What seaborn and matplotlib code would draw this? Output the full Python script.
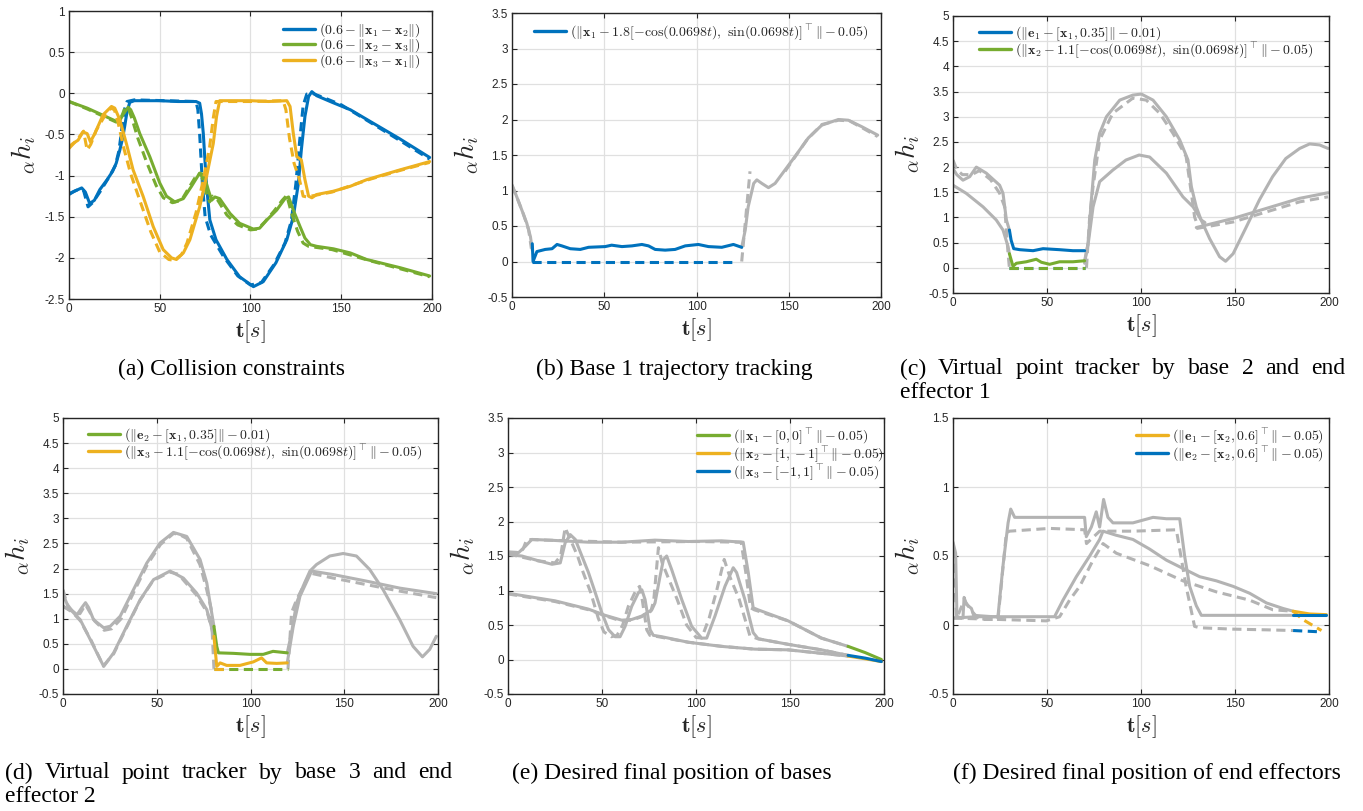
import numpy as np
import matplotlib
matplotlib.use("Agg")
import matplotlib.pyplot as plt
from matplotlib.lines import Line2D
from matplotlib.ticker import FuncFormatter
import seaborn as sns

# ─── Data (t [s], value) ──────────────────────────────────────────────────────

# (a) collision constraints: solid = actual, dashed = reference
a_x12 = [(0, -1.23), (3, -1.19), (5, -1.17), (7, -1.15), (9, -1.2), (11.4, -1.34), (14, -1.3),
         (17, -1.17), (21, -1.05), (24, -0.95), (26, -0.85), (28, -0.69), (29.5, -0.55),
         (30.7, -0.4), (32, -0.22), (33.5, -0.11), (36, -0.09), (50, -0.09), (60, -0.1),
         (70, -0.1), (72, -0.12), (73, -0.25), (74, -0.49), (75, -0.85), (75.8, -1.13),
         (77.6, -1.54), (81, -1.78), (87, -2.02), (94, -2.23), (101.6, -2.35), (107, -2.29),
         (114, -2.06), (120, -1.78), (123.6, -1.5), (126.4, -1.09), (128, -0.69), (130, -0.28),
         (132, -0.04), (133.8, 0.02), (136.5, -0.03), (145, -0.11), (155, -0.2), (165, -0.33),
         (182, -0.55), (198.7, -0.78)]
a_x12_ref = [(0, -1.22), (5, -1.17), (8, -1.18), (10.5, -1.38), (13, -1.33), (17, -1.2),
             (22, -1.02), (25.5, -0.88), (27.5, -0.7), (29, -0.45), (30.5, -0.2), (32, -0.1),
             (36, -0.08), (70, -0.1), (71, -0.2), (72, -0.5), (73.5, -1.1), (75, -1.5),
             (78, -1.72), (85, -1.98), (93, -2.22), (100, -2.33), (106, -2.3), (113, -2.08),
             (119, -1.82), (122.5, -1.55), (125, -1.1), (127, -0.6), (129, -0.15), (131, -0.01),
             (134, 0.0), (140, -0.05), (150, -0.14), (165, -0.34), (182, -0.57), (198.7, -0.8)]
a_x23 = [(0, -0.1), (10, -0.18), (20, -0.28), (26, -0.34), (28, -0.33), (30, -0.25),
         (32.6, -0.17), (34, -0.2), (36, -0.3), (39, -0.49), (44.5, -0.77), (50, -1.09),
         (53.7, -1.25), (58.3, -1.32), (63, -1.28), (67.5, -1.13), (72, -0.97), (74.3, -0.99),
         (76.7, -1.17), (78.6, -1.3), (80.4, -1.26), (83, -1.28), (88.7, -1.46), (94, -1.58),
         (101.6, -1.65), (105, -1.64), (109, -1.54), (114.4, -1.42), (119, -1.28), (121, -1.26),
         (123.6, -1.42), (127.3, -1.62), (130, -1.76), (133, -1.84), (136.5, -1.86),
         (145.7, -1.89), (155, -1.94), (164, -2.02), (182.5, -2.12), (198.7, -2.22)]
a_x23_ref = [(0, -0.1), (10, -0.19), (20, -0.29), (26, -0.35), (29, -0.28), (31, -0.17),
             (33, -0.2), (35, -0.33), (38, -0.55), (43, -0.85), (48, -1.12), (52, -1.27),
             (57, -1.33), (62, -1.3), (66, -1.15), (71, -0.97), (73, -1.0), (75.5, -1.2),
             (77.5, -1.32), (79, -1.25), (82, -1.3), (87, -1.48), (93, -1.6), (100, -1.66),
             (104, -1.65), (108, -1.56), (113, -1.43), (117.5, -1.3), (120, -1.24),
             (122.5, -1.45), (126, -1.68), (129, -1.82), (132, -1.86), (145, -1.9),
             (165, -2.03), (182, -2.13), (198.7, -2.23)]
a_x31 = [(0, -0.65), (2.2, -0.61), (5, -0.57), (7.7, -0.47), (10, -0.49), (11.8, -0.59),
         (14.2, -0.49), (18.8, -0.26), (23.4, -0.16), (25.2, -0.18), (28, -0.32),
         (31.6, -0.61), (35.3, -0.93), (40.8, -1.25), (46.4, -1.62), (51.9, -1.9), (56.5, -2.0),
         (59.2, -2.02), (63, -1.94), (66.6, -1.78), (72, -1.38), (75.8, -1.01), (79.5, -0.61),
         (81.3, -0.28), (83, -0.09), (100, -0.09), (110, -0.1), (120, -0.09), (121.8, -0.16),
         (123.6, -0.49), (125.5, -0.77), (128, -0.81), (130, -1.05), (132, -1.25),
         (133.8, -1.27), (136.5, -1.23), (145.7, -1.19), (155, -1.13), (164, -1.05),
         (182.5, -0.93), (198.7, -0.83)]
a_x31_ref = [(0, -0.67), (3, -0.6), (6, -0.52), (8, -0.46), (10, -0.69), (12, -0.62),
             (15, -0.45), (19, -0.3), (23, -0.18), (25, -0.2), (27, -0.35), (30, -0.65),
             (34, -0.98), (39, -1.3), (45, -1.68), (50, -1.93), (55, -2.02), (58, -2.03),
             (62, -1.96), (65, -1.82), (70, -1.45), (74, -1.05), (77.5, -0.65), (79.5, -0.3),
             (81, -0.1), (100, -0.1), (118, -0.09), (119.5, -0.2), (121.5, -0.55), (124, -0.85),
             (127, -1.05), (129, -1.25), (131, -1.26), (145, -1.2), (165, -1.05), (182, -0.94),
             (198.7, -0.84)]

# (b) base 1 trajectory tracking
b_track = [(11, 0.25), (11.4, 0.0), (13.5, 0.14), (18, 0.17), (21.7, 0.18), (24.4, 0.24),
           (27, 0.22), (31.6, 0.18), (37, 0.17), (41.5, 0.2), (50.5, 0.21), (54, 0.23),
           (59.6, 0.21), (65, 0.22), (70.4, 0.24), (74, 0.22), (77.6, 0.17), (83, 0.16),
           (88.4, 0.17), (93.9, 0.22), (101, 0.24), (106.5, 0.21), (113.7, 0.2), (120, 0.24),
           (124.5, 0.2)]
b_track_ref = [(11, 0.0), (121, 0.0)]
b_idle = [[(0, 1.08), (2, 0.95), (5.4, 0.72), (8, 0.54), (10, 0.35), (11, 0.16)],
          [(124.5, 0.2), (126.4, 0.44), (128, 0.77), (131, 1.1), (132.7, 1.15), (135.4, 1.1),
           (139, 1.04), (142.6, 1.1), (148, 1.29), (153.4, 1.48), (160.6, 1.74), (167.9, 1.92),
           (176.9, 2.0), (182.3, 1.99), (189.5, 1.9), (198.2, 1.78)]]
b_idle_ref = [[(0, 1.07), (3, 0.88), (6, 0.68), (9, 0.45), (10.5, 0.18)],
              [(124.5, 0.0), (129, 1.27)],
              [(148, 1.27), (160, 1.72), (168, 1.93), (177, 1.99), (183, 1.98), (190, 1.88),
               (198.2, 1.76)]]

# (c) virtual point tracker, base 2 / end effector 1
c_e1 = [(30, 0.75), (30.9, 0.55), (32.3, 0.38), (35.5, 0.36), (42.6, 0.34), (47.9, 0.38),
        (56.7, 0.36), (63.8, 0.34), (70, 0.34)]
c_e1_ref = [(30, 0.0), (70, 0.0)]
c_x2 = [(30, 0.28), (31.9, 0.03), (33.7, 0.09), (39, 0.12), (44.3, 0.17), (47, 0.11),
        (51.4, 0.07), (56.7, 0.12), (63.8, 0.12), (70, 0.14)]
c_x2_ref = [(30, 0.0), (70, 0.0)]
c_idle = [[(0, 1.97), (2, 1.85), (5.3, 1.74), (8.9, 1.81), (12.4, 2.0), (17.7, 1.88),
           (24.8, 1.64), (26.6, 1.48), (28.4, 0.95), (30, 0.75)],
          [(0, 1.64), (7, 1.48), (16, 1.21), (23, 0.95), (26.6, 0.75), (29.3, 0.42), (30, 0.28)],
          [(70, 0.09), (71.8, 0.48), (73.6, 1.35), (75.4, 2.14), (78, 2.67), (81.6, 3.0),
           (88.7, 3.33), (95.7, 3.43), (100.2, 3.45), (106.4, 3.33), (113.5, 3.0),
           (120.6, 2.54), (125, 2.14), (126.8, 1.61), (129.4, 1.21), (132, 0.95), (134, 0.9)],
          [(129.4, 0.8), (149, 0.98), (166.7, 1.18), (184.4, 1.38), (199.5, 1.49)],
          [(70, 0.14), (72, 0.5), (74.5, 1.21), (78, 1.71), (85, 1.94), (92, 2.14), (99, 2.24),
           (104.6, 2.2), (113.5, 1.88), (122.3, 1.41), (127.7, 1.21), (132, 0.95),
           (136.5, 0.58), (141.8, 0.22), (145, 0.13), (149, 0.28), (156, 0.81), (163, 1.35),
           (170, 1.81), (177, 2.17), (184.4, 2.37), (189.7, 2.46), (195, 2.44), (199.5, 2.37)]]
c_idle_ref = [[(0, 2.14), (2, 1.95), (5, 1.85), (10, 1.85), (14, 1.93), (20, 1.75),
               (24.8, 1.48), (27.5, 1.21), (29.3, 0.28), (30, 0.0)],
              [(71, 0.0), (72.7, 1.01), (74.5, 1.61), (78, 2.54), (85, 3.07), (95.7, 3.37),
               (102.8, 3.33), (109.9, 3.07), (117, 2.67), (124, 2.21), (126.8, 1.48),
               (128.5, 1.01), (130, 0.85)],
              [(129.4, 0.78), (149, 0.91), (166.7, 1.11), (184.4, 1.31), (199.5, 1.41)]]

# (d) virtual point tracker, base 3 / end effector 2
d_e2 = [(80.5, 0.85), (82, 0.45), (82.9, 0.32), (90.9, 0.31), (99.7, 0.29), (106.8, 0.29),
        (112, 0.35), (119.6, 0.32)]
d_e2_ref = [(80.5, 0.0), (120, 0.0)]
d_x3 = [(80.5, 0.65), (82, 0.05), (83.8, 0.12), (87.3, 0.07), (94.4, 0.07), (101.5, 0.14),
        (105.9, 0.22), (108.6, 0.12), (114, 0.11), (119.6, 0.12)]
d_x3_ref = [(80.5, 0.0), (88, 0.0)]
d_idle = [[(0, 1.55), (1.2, 1.38), (3, 1.22), (7.5, 1.08), (10, 1.22), (12, 1.32),
           (13.7, 1.22), (16.3, 0.98), (21.7, 0.82), (25.2, 0.85), (30.5, 1.05), (37.6, 1.58),
           (44.7, 2.11), (51.8, 2.51), (58.9, 2.72), (66, 2.64), (73.1, 2.18), (76.7, 1.71),
           (78.4, 1.32), (80.5, 0.85)],
          [(0, 1.25), (4.8, 1.15), (9.2, 0.98), (14.6, 0.58), (21.7, 0.05), (27, 0.32),
           (34, 0.85), (41.2, 1.38), (48.3, 1.78), (57.1, 1.95), (64.2, 1.81), (71.3, 1.51),
           (76.7, 1.18), (80.5, 0.65)],
          [(119.6, 0.32), (121.9, 0.72), (124.6, 1.32), (128.1, 1.65), (131.7, 1.95),
           (135.2, 2.08), (142.3, 2.25), (149.4, 2.3), (156.5, 2.25), (163.6, 1.98),
           (170.7, 1.58), (179.6, 0.98), (186.7, 0.45), (191.7, 0.24), (195.6, 0.39),
           (199.1, 0.65)],
          [(119.6, 0.12), (122.8, 0.85), (126.4, 1.45), (132.6, 1.95), (144.1, 1.88),
           (161.8, 1.75), (179.6, 1.61), (199.1, 1.5)]]
d_idle_ref = [[(0, 1.58), (2, 1.3), (5, 1.15), (9, 1.1), (12, 1.28), (14, 1.15), (17, 0.95),
               (22, 0.77), (26, 0.8), (31, 1.0), (38, 1.55), (45, 2.08), (52, 2.48), (59, 2.7),
               (62, 2.68), (66, 2.6), (73, 2.08), (76.5, 1.6), (79, 1.2), (80.5, 0.0)],
              [(0, 1.25), (5, 1.13), (9, 0.97), (15, 0.57), (21.5, 0.06), (27, 0.3), (34, 0.83),
               (41, 1.36), (48, 1.76), (57, 1.93), (62, 1.88), (64, 1.78), (71, 1.48),
               (77, 1.12), (80, 0.7)],
              [(120, 0.0), (121.9, 1.12), (124.6, 1.38), (131.7, 1.91), (144.1, 1.81),
               (161.8, 1.68), (179.6, 1.55), (199.1, 1.42)]]

# (e) desired final position of bases
e_x1 = [(180.9, 0.19), (190, 0.1), (198.6, 0.0)]
e_x2 = [(180.9, 0.05), (190, 0.01), (198.6, -0.03)]
e_x3 = [(180.9, 0.06), (190, 0.02), (198.6, -0.03)]
e_idle = [[(0, 1.55), (5.7, 1.55), (9.2, 1.64), (12.7, 1.74), (21.6, 1.73), (42.8, 1.7),
           (60.5, 1.7), (78.2, 1.73), (95.9, 1.71), (113.6, 1.72), (125.1, 1.7), (127.8, 1.26),
           (130.4, 0.75), (133, 0.72), (149, 0.56), (166.7, 0.31), (180.9, 0.19)],
          [(0, 1.52), (7.4, 1.5), (16.3, 1.43), (23.4, 1.38), (27.8, 1.4), (30.4, 1.69),
           (33.1, 1.81), (35.8, 1.74), (39.3, 1.5), (42.8, 1.26), (46.4, 0.97), (49.9, 0.68),
           (53.5, 0.43), (57, 0.33), (59.6, 0.33), (62.3, 0.48), (65.8, 0.77), (69.4, 0.97),
           (71.2, 1.01), (72.9, 0.87), (75.6, 0.43), (77.3, 0.35), (81.8, 0.33), (95.9, 0.25),
           (113.6, 0.19), (131.3, 0.15), (149, 0.14), (166.7, 0.09), (180.9, 0.05)],
          [(0, 0.96), (25.1, 0.85), (42.8, 0.73), (51.7, 0.64), (60.5, 0.57), (65.8, 0.58),
           (71.2, 0.63), (76.5, 0.72), (78.2, 0.82), (80.9, 1.21), (82.7, 1.45), (84.4, 1.5),
           (87.1, 1.3), (92.4, 0.87), (97.7, 0.48), (103, 0.31), (105.7, 0.31), (110.1, 0.63),
           (115.4, 1.06), (119.8, 1.33), (121.6, 1.26), (126, 0.87), (130.4, 0.39),
           (133.1, 0.3), (149, 0.22), (166.7, 0.14), (180.9, 0.06)]]
e_idle_ref = [[(0, 1.56), (6, 1.55), (8, 1.6), (10, 1.74), (20, 1.73), (60, 1.7), (100, 1.71),
               (124, 1.7), (126.5, 1.26), (129, 0.75), (131, 0.72), (149, 0.56), (166.7, 0.31),
               (180.9, 0.19)],
              [(0, 1.53), (16, 1.43), (25, 1.4), (28, 1.5), (30.4, 1.91), (33, 1.75), (37, 1.5),
               (40, 1.26), (44, 0.97), (48, 0.6), (51, 0.4), (55, 0.33), (58, 0.35), (61, 0.5),
               (64, 0.77), (68, 1.0), (70, 1.06), (71.5, 0.85), (73.8, 0.43), (75.5, 0.35),
               (80, 0.33), (96, 0.25), (114, 0.19), (131, 0.15), (149, 0.14), (166.7, 0.09),
               (180.9, 0.05)],
              [(0, 0.95), (25, 0.84), (43, 0.72), (52, 0.63), (60, 0.56), (66, 0.57), (71, 0.62),
               (76, 0.7), (77.5, 0.85), (80, 1.62), (82, 1.4), (85, 1.2), (90, 0.87), (95, 0.5),
               (100, 0.32), (103, 0.31), (107, 0.6), (111, 1.0), (115, 1.45), (118, 1.2),
               (123, 0.87), (127, 0.5), (128.7, 0.34), (133, 0.3), (149, 0.22), (166.7, 0.14),
               (180.9, 0.06)]]

# (f) desired final position of end effectors
f_e1 = [(180.9, 0.1), (189.7, 0.08), (198.6, 0.075)]
f_e1_ref = [(180.9, 0.1), (186, 0.04), (191, 0.0), (196, -0.04)]
f_e2 = [(180.9, 0.07), (198.6, 0.07)]
f_e2_ref = [(180.9, -0.04), (196, -0.05)]
f_idle = [[(0, 0.6), (1.4, 0.52), (2.1, 0.06), (5.3, 0.05), (5.9, 0.2), (7.1, 0.15),
           (9.8, 0.12), (11, 0.07), (21.3, 0.06), (23.9, 0.06), (26.6, 0.43), (29.3, 0.74),
           (30.7, 0.84), (32.8, 0.78), (42.6, 0.78), (60.3, 0.78), (70, 0.78), (70.9, 0.64),
           (73.6, 0.71), (76.2, 0.82), (78, 0.71), (80.1, 0.91), (82.4, 0.78), (85.1, 0.74),
           (95.7, 0.74), (106.4, 0.78), (113.5, 0.77), (120.6, 0.77), (123.2, 0.5),
           (125.9, 0.28), (129.4, 0.14), (132.1, 0.07), (149, 0.07), (166.7, 0.07),
           (180.9, 0.07)],
          [(0, 0.05), (12.4, 0.06), (42.6, 0.06), (54, 0.06), (58.5, 0.18), (65.6, 0.35),
           (72.7, 0.5), (78, 0.62), (79.8, 0.68), (86.9, 0.65), (95.7, 0.62), (104.6, 0.55),
           (113.5, 0.47), (122.3, 0.41), (131.2, 0.35), (140.1, 0.32), (149, 0.28),
           (157.8, 0.23), (166.7, 0.16), (175.5, 0.12), (180.9, 0.1)]]
f_idle_ref = [[(0, 0.55), (2, 0.05), (6, 0.18), (10, 0.1), (14, 0.04), (23.9, 0.04),
               (28.4, 0.67), (30.1, 0.68), (51.4, 0.7), (70, 0.69), (71, 0.59), (78, 0.68),
               (95.7, 0.68), (118.8, 0.69), (124, 0.28), (128.5, -0.01), (131.2, -0.02),
               (149, -0.03), (166.7, -0.035), (180.9, -0.04)],
              [(0, 0.05), (49.6, 0.03), (56.7, 0.06), (62, 0.18), (67.4, 0.28), (74.5, 0.47),
               (79.8, 0.59), (86.9, 0.52), (104.6, 0.43), (122.3, 0.32), (140.1, 0.24),
               (157.8, 0.18), (170.2, 0.11), (180.9, 0.1)]]

# ─── Labels ───────────────────────────────────────────────────────────────────

LEG_A = [r"$(0.6-\|\mathbf{x}_1-\mathbf{x}_2\|)$",
         r"$(0.6-\|\mathbf{x}_2-\mathbf{x}_3\|)$",
         r"$(0.6-\|\mathbf{x}_3-\mathbf{x}_1\|)$"]
LEG_B = [r"$(\|\mathbf{x}_1-1.8[-\cos(0.0698t),\ \sin(0.0698t)]^{\top}\|-0.05)$"]
LEG_C = [r"$(\|\mathbf{e}_1-[\mathbf{x}_1,0.35]\|-0.01)$",
         r"$(\|\mathbf{x}_2-1.1[-\cos(0.0698t),\ \sin(0.0698t)]^{\top}\|-0.05)$"]
LEG_D = [r"$(\|\mathbf{e}_2-[\mathbf{x}_1,0.35]\|-0.01)$",
         r"$(\|\mathbf{x}_3-1.1[-\cos(0.0698t),\ \sin(0.0698t)]^{\top}\|-0.05)$"]
LEG_E = [r"$(\|\mathbf{x}_1-[0,0]^{\top}\|-0.05)$",
         r"$(\|\mathbf{x}_2-[1,-1]^{\top}\|-0.05)$",
         r"$(\|\mathbf{x}_3-[-1,1]^{\top}\|-0.05)$"]
LEG_F = [r"$(\|\mathbf{e}_1-[\mathbf{x}_2,0.6]^{\top}\|-0.05)$",
         r"$(\|\mathbf{e}_2-[\mathbf{x}_2,0.6]^{\top}\|-0.05)$"]

CAPTIONS = ["(a) Collision constraints", "(b) Base 1 trajectory tracking",
            "(c) Virtual point tracker by base 2 and end", "effector 1",
            "(d) Virtual point tracker by base 3 and end", "effector 2",
            "(e) Desired final position of bases", "(f) Desired final position of end effectors"]

# ─── Style ────────────────────────────────────────────────────────────────────

BLUE, GREEN, YELLOW, GRAY = "#0072BD", "#77AC30", "#EDB120", "#B3B3B3"
W, H = 1363, 811
LW = 2.2

sns.set_theme(style="ticks")
plt.rcParams["font.family"] = ["Liberation Sans", "DejaVu Sans"]
plt.rcParams["mathtext.fontset"] = "cm"
plt.rcParams["axes.unicode_minus"] = False

fig = plt.figure(figsize=(W / 100, H / 100), dpi=100)
fig.patch.set_facecolor("white")


def panel(l, t, r, b, ylo, yhi):
    ax = fig.add_axes([l / W, 1 - b / H, (r - l) / W, (b - t) / H])
    ax.set_xlim(0, 200)
    ax.set_ylim(ylo, yhi)
    ax.set_xticks(np.arange(0, 201, 50))
    ax.set_yticks(np.arange(ylo, yhi + 0.01, 0.5))
    ax.yaxis.set_major_formatter(FuncFormatter(lambda v, p: f"{v:g}"))
    ax.grid(True, color="#E0E0E0", lw=0.9)
    ax.set_axisbelow(True)
    ax.tick_params(direction="in", top=True, right=True, length=3.5, width=0.8,
                   labelsize=8.5, colors="#262626", pad=3)
    for s in ax.spines.values():
        s.set_color("#262626")
        s.set_linewidth(1.0)
    ax.set_xlabel(r"$\mathbf{t}[s]$", fontsize=16)
    ax.set_ylabel(r"${}_{\alpha}h_i$", fontsize=20)
    ax.xaxis.set_label_coords(0.5, -19 / (b - t))
    ax.yaxis.set_label_coords(-31 / (r - l), 0.5)
    return ax


def draw(ax, pts, color, dashed=False):
    p = np.asarray(pts, dtype=float)
    sns.lineplot(x=p[:, 0], y=p[:, 1], ax=ax, color=color, lw=LW,
                 linestyle=(0, (3, 1.8)) if dashed else "-",
                 estimator=None, sort=False, legend=False)


def legend(ax, colors, labels, x, y):
    handles = [Line2D([], [], color=c, lw=2.4) for c in colors]
    ax.legend(handles, labels, loc="upper left", bbox_to_anchor=(x / W, 1 - y / H),
              bbox_transform=fig.transFigure, frameon=False, fontsize=10,
              handlelength=2.3, handletextpad=0.3, labelspacing=-0.15,
              borderpad=0, borderaxespad=0)


# ─── (a) ──────────────────────────────────────────────────────────────────────
ax = panel(69, 11, 432, 299, -2.5, 1)
for sol, ref, c in [(a_x12, a_x12_ref, BLUE), (a_x23, a_x23_ref, GREEN), (a_x31, a_x31_ref, YELLOW)]:
    draw(ax, sol, c)
    draw(ax, ref, c, dashed=True)
legend(ax, [BLUE, GREEN, YELLOW], LEG_A, 283, 21)

# ─── (b) ──────────────────────────────────────────────────────────────────────
ax = panel(512, 13, 881, 297, -0.5, 3.5)
for seg in b_idle:
    draw(ax, seg, GRAY)
for seg in b_idle_ref:
    draw(ax, seg, GRAY, dashed=True)
draw(ax, b_track, BLUE)
draw(ax, b_track_ref, BLUE, dashed=True)
legend(ax, [BLUE], LEG_B, 534, 22)

# ─── (c) ──────────────────────────────────────────────────────────────────────
ax = panel(953, 16, 1329, 293, -0.5, 5)
for seg in c_idle:
    draw(ax, seg, GRAY)
for seg in c_idle_ref:
    draw(ax, seg, GRAY, dashed=True)
draw(ax, c_e1, BLUE)
draw(ax, c_e1_ref, BLUE, dashed=True)
draw(ax, c_x2, GREEN)
draw(ax, c_x2_ref, GREEN, dashed=True)
legend(ax, [BLUE, GREEN], LEG_C, 979, 24)

# ─── (d) ──────────────────────────────────────────────────────────────────────
ax = panel(63, 418, 438, 694, -0.5, 5)
for seg in d_idle:
    draw(ax, seg, GRAY)
for seg in d_idle_ref:
    draw(ax, seg, GRAY, dashed=True)
draw(ax, d_e2, GREEN)
draw(ax, d_e2_ref, GREEN, dashed=True)
draw(ax, d_x3, YELLOW)
draw(ax, d_x3_ref, YELLOW, dashed=True)
legend(ax, [GREEN, YELLOW], LEG_D, 88, 426)

# ─── (e) ──────────────────────────────────────────────────────────────────────
ax = panel(508, 418, 884, 694, -0.5, 3.5)
for seg in e_idle:
    draw(ax, seg, GRAY)
for seg in e_idle_ref:
    draw(ax, seg, GRAY, dashed=True)
draw(ax, e_x1, GREEN)
draw(ax, e_x2, YELLOW)
draw(ax, e_x3, BLUE)
legend(ax, [GREEN, YELLOW, BLUE], LEG_E, 697, 426)

# ─── (f) ──────────────────────────────────────────────────────────────────────
ax = panel(953, 418, 1329, 694, -0.5, 1.5)
for seg in f_idle:
    draw(ax, seg, GRAY)
for seg in f_idle_ref:
    draw(ax, seg, GRAY, dashed=True)
draw(ax, f_e1, YELLOW)
draw(ax, f_e1_ref, YELLOW, dashed=True)
draw(ax, f_e2, BLUE)
draw(ax, f_e2_ref, BLUE, dashed=True)
legend(ax, [YELLOW, BLUE], LEG_F, 1136, 426)

# ─── Captions (sub-figure labels, Times-like) ─────────────────────────────────
CAP = dict(fontsize=17, family=["Liberation Serif", "DejaVu Serif"], va="center", color="black")
renderer = fig.canvas.get_renderer()


def justified(text, x0, x1, y):
    words = [fig.text(0, 0, w, ha="left", **CAP) for w in text.split()]
    widths = [t.get_window_extent(renderer).width for t in words]
    gap = (x1 - x0 - sum(widths)) / (len(words) - 1)
    x = x0
    for t, w in zip(words, widths):
        t.set_position((x / W, 1 - y / H))
        x += w + gap


fig.text(231 / W, 1 - 369 / H, CAPTIONS[0], ha="center", **CAP)
fig.text(674 / W, 1 - 369 / H, CAPTIONS[1], ha="center", **CAP)
justified(CAPTIONS[2], 900, 1345, 369)
fig.text(900 / W, 1 - 393 / H, CAPTIONS[3], ha="left", **CAP)
justified(CAPTIONS[4], 5, 452, 773)
fig.text(5 / W, 1 - 797 / H, CAPTIONS[5], ha="left", **CAP)
fig.text(512 / W, 1 - 773 / H, CAPTIONS[6], ha="left", **CAP)
fig.text(953 / W, 1 - 773 / H, CAPTIONS[7], ha="left", **CAP)

fig.savefig("out.png", dpi=100, facecolor="white")
